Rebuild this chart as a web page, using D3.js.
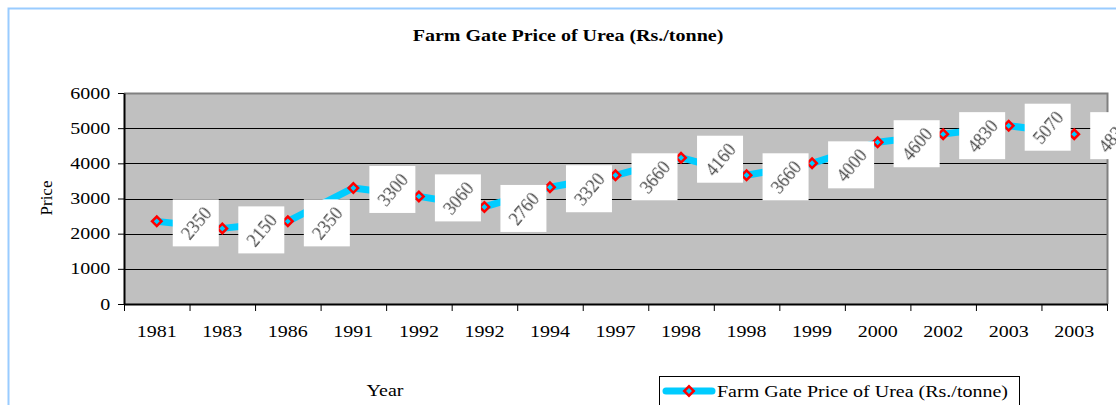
<!DOCTYPE html>
<html>
<head>
<meta charset="utf-8">
<script src="https://cdn.jsdelivr.net/npm/d3@7"></script>
<style>
body { margin: 0; background: #fff; }
text { font-family: "Liberation Serif", "Times New Roman", serif; }
</style>
</head>
<body>
<div id="svg"></div>
<script>
// data
var years = ['1981','1983','1986','1991','1992','1992','1994','1997','1998','1998','1999','2000','2002','2003','2003'];
var prices = [2350, 2150, 2350, 3300, 3060, 2760, 3320, 3660, 4160, 3660, 4000, 4600, 4830, 5070, 4830];
var yTicks = [0, 1000, 2000, 3000, 4000, 5000, 6000];

var width = 1116, height = 405;
var svg = d3.select('#svg').append('svg').attr('width', width).attr('height', height);

// the source picture is stretched sideways, so its text is too
var stretch = 'scale(1.25,1)';

var defs = svg.append('defs');
defs.append('filter').attr('id', 'soft')
	.append('feGaussianBlur').attr('stdDeviation', 0.6);
defs.append('clipPath').attr('id', 'clip')
	.append('rect').attr('x', 0).attr('y', 0).attr('width', 1116).attr('height', 405);

// outer chart frame (only top/left visible)
svg.append('path')
	.attr('d', 'M8.5,405 V8.5 H1116')
	.attr('fill', 'none')
	.attr('stroke', '#99CCFF')
	.attr('stroke-width', 2);

var pLeft = 124, pRight = 1107, pTop = 93, pBottom = 304;

var x = d3.scaleBand()
	.domain(d3.range(years.length))
	.range([pLeft, pRight]);

var y = d3.scaleLinear()
	.domain([0, 6000])
	.range([pBottom, pTop]);

function label(g, px, py, txt, anchor) {
	return g.append('g')
		.attr('transform', 'translate(' + px + ',' + py + ')')
		.append('text')
		.attr('transform', stretch)
		.attr('text-anchor', anchor || 'middle')
		.style('font-size', '16px')
		.text(txt);
}

// title
label(svg, 568, 41, 'Farm Gate Price of Urea (Rs./tonne)').style('font-weight', 'bold');

// plot area
svg.append('rect')
	.attr('x', pLeft).attr('y', pTop)
	.attr('width', pRight - pLeft).attr('height', pBottom - pTop)
	.attr('fill', '#C0C0C0');

// gridlines
svg.selectAll()
	.data(yTicks.slice(1, -1))
	.enter()
	.append('line')
	.attr('x1', pLeft).attr('x2', pRight)
	.attr('y1', function(d) { return Math.round(y(d)) + 0.5 })
	.attr('y2', function(d) { return Math.round(y(d)) + 0.5 })
	.attr('stroke', '#000')
	.attr('stroke-width', 1);

// grey border top/right
svg.append('path')
	.attr('d', 'M' + pLeft + ',' + (pTop + 0.5) + ' H' + (pRight + 0.5) + ' V' + pBottom)
	.attr('fill', 'none')
	.attr('stroke', '#808080')
	.attr('stroke-width', 2);

// y axis
var yAxis = svg.append('g')
	.attr('transform', 'translate(' + pLeft + ',0)')
	.call(d3.axisLeft(y).tickValues(yTicks).tickFormat(d3.format('d')).tickSize(6).tickSizeOuter(0).tickPadding(11));
yAxis.select('.domain').attr('stroke', '#000').attr('stroke-width', 2);
yAxis.selectAll('.tick line').attr('stroke', '#000');
yAxis.selectAll('text')
	.attr('transform', stretch)
	.attr('x', -11)
	.style('font-size', '16px')
	.style('font-family', '"Liberation Serif", serif')
	.attr('fill', '#000');

// x axis: ticks on category boundaries
var xAxis = svg.append('g')
	.attr('transform', 'translate(0,' + pBottom + ')')
	.call(d3.axisBottom(x).tickFormat(function(i) { return years[i] }).tickSize(0).tickSizeOuter(0).tickPadding(22));
xAxis.select('.domain').attr('stroke', '#000').attr('stroke-width', 2);
xAxis.selectAll('text')
	.attr('transform', stretch)
	.style('font-size', '16px')
	.style('font-family', '"Liberation Serif", serif')
	.attr('fill', '#000');
xAxis.selectAll()
	.data(d3.range(years.length + 1))
	.enter()
	.append('line')
	.attr('x1', function(i) { return (i < years.length ? x(i) : pRight) + 0.5 })
	.attr('x2', function(i) { return (i < years.length ? x(i) : pRight) + 0.5 })
	.attr('y1', 0).attr('y2', 7)
	.attr('stroke', '#000');

// axis titles
svg.append('text')
	.attr('transform', 'translate(52,198) rotate(-90)')
	.attr('text-anchor', 'middle')
	.style('font-size', '17px')
	.text('Price');

label(svg, 385, 396, 'Year');

var cx = function(d, i) { return x(i) + x.bandwidth() / 2 };

// series line
var line = d3.line()
	.x(function(d, i) { return cx(d, i) })
	.y(function(d) { return y(d) });

svg.append('path')
	.datum(prices)
	.attr('d', line)
	.attr('fill', 'none')
	.attr('stroke', '#00CCFF')
	.attr('stroke-width', 7)
	.attr('stroke-linejoin', 'round');

// markers
var diamond = d3.symbol().type(d3.symbolSquare).size(45);
svg.selectAll()
	.data(prices)
	.enter()
	.append('path')
	.attr('d', diamond)
	.attr('transform', function(d, i) { return 'translate(' + cx(d, i) + ',' + y(d) + ') rotate(45)' })
	.attr('fill', '#00CCFF')
	.attr('stroke', '#FF0000')
	.attr('stroke-width', 2.5);

// data labels: white boxes with rotated text
var labels = svg.append('g').attr('clip-path', 'url(#clip)');
var lab = labels.selectAll()
	.data(prices)
	.enter()
	.append('g')
	.attr('transform', function(d, i) { return 'translate(' + (cx(d, i) + 39) + ',' + (y(d) + 1.5) + ')' });

lab.append('rect')
	.attr('x', -23).attr('y', -23.5)
	.attr('width', 46).attr('height', 47)
	.attr('fill', '#fff');

lab.append('text')
	.attr('transform', 'rotate(-50) scale(1.05,1.1)')
	.attr('text-anchor', 'middle')
	.attr('dy', '0.35em')
	.attr('fill', '#4a4a4a')
	.attr('filter', 'url(#soft)')
	.style('font-size', '17px')
	.text(function(d) { return d });

// legend
var legend = svg.append('g').attr('transform', 'translate(659,376)');
legend.append('rect')
	.attr('x', 0.5).attr('y', 0.5)
	.attr('width', 360).attr('height', 40)
	.attr('fill', '#fff')
	.attr('stroke', '#000');
legend.append('line')
	.attr('x1', 7).attr('x2', 53)
	.attr('y1', 15).attr('y2', 15)
	.attr('stroke', '#00CCFF')
	.attr('stroke-width', 7)
	.attr('stroke-linecap', 'round');
legend.append('path')
	.attr('d', diamond)
	.attr('transform', 'translate(30,15) rotate(45)')
	.attr('fill', '#00CCFF')
	.attr('stroke', '#FF0000')
	.attr('stroke-width', 2.5);
label(legend, 58, 21, 'Farm Gate Price of Urea (Rs./tonne)', 'start');
</script>
</body>
</html>
